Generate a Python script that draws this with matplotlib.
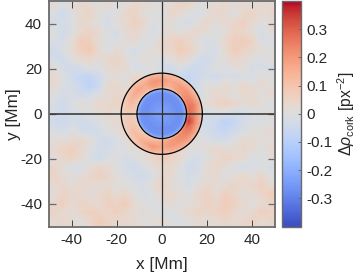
#!/usr/bin/python3

import matplotlib
matplotlib.use('Agg')
import matplotlib.pyplot as plt
import numpy as np

plt.rcParams['font.family'] = ['Liberation Sans', 'DejaVu Sans']
plt.rcParams['mathtext.fontset'] = 'custom'
plt.rcParams['mathtext.rm'] = 'Liberation Sans'
plt.rcParams['mathtext.it'] = 'Liberation Sans:italic'

# background read by eye, 4 Mm cells, top row first
background = np.array([
    [ 2, -1,  1,  3,  2,  0,  2, -1,  1,  3,  2,  1,  0,  2,  4,  3,  1,  0,  2,  3,  1,  2,  1,  3,  2],
    [-1, -3,  0,  2,  4,  1, -1,  0,  3,  4,  1,  0, -1,  3,  2,  0, -2,  1,  3,  2,  0,  3,  4,  1,  3],
    [-2, -2, -1,  3,  2,  0, -2,  1,  2,  5,  3, -1,  0,  1, -1, -2,  1,  3,  1,  2,  3,  5,  2,  0,  1],
    [ 0, -3, -1,  2,  4,  2, -1, -2,  2,  3,  1, -2,  1,  2,  0,  2,  3,  1, -1,  1,  4,  3,  1, -2,  2],
    [-1, -2,  1,  6,  5,  1,  0, -1,  1,  2, -1,  0,  2,  4,  5,  3,  0, -2,  0,  3,  5,  6,  4, -1, -1],
    [-3, -1,  2,  5,  7,  2, -1,  2,  0, -2,  0,  1,  3,  3,  6,  4,  1, -1, -2,  2,  6,  4,  3,  1,  0],
    [-2, -3,  0,  2,  3,  1,  3,  4,  1, -1,  2,  0, -1,  1,  3,  2, -2, -3, -1,  1,  3,  2,  0, -1,  1],
    [ 1, -2, -3, -2,  0, -1,  2,  3,  2, -2, -1,  0, -2, -3, -1, -3, -4, -2,  0, -1,  1,  1, -2, -1, -2],
    [ 3,  0, -3, -5, -6, -3,  0,  1,  0,  3,  1, -1, -1, -2, -3, -5, -3, -2, -3, -1, -2, -1, -1,  1,  0],
    [ 2, -1, -2, -4, -7, -4,  2,  3,  1,  4,  4,  2,  1,  0, -2, -4, -2,  1,  0,  2,  1,  3,  1,  2,  1],
    [ 0, -2, -1, -3, -2,  0,  2,  3,  3,  4,  6,  6,  5,  3,  0, -2, -2,  0,  3,  2,  0,  2,  3,  0,  2],
    [-1, -3, -1,  1,  0,  3,  2,  4,  3,  2,  0, -1,  0,  2,  3,  1, -1,  2,  3,  5,  3,  1,  2,  1, -1],
    [-2, -3, -2, -1,  0,  1,  3,  2,  1,  0,  0,  0,  0,  0,  2,  1, -1, -2, -1, -1, -3, -2, -1,  0,  1],
    [-3, -4, -2, -3, -2, -1,  1,  2,  3,  2,  0,  0,  0,  0,  2,  1, -2, -3, -4, -7, -5, -2, -1, -1,  0],
    [-1, -2,  0, -2, -3, -2,  0,  1,  3,  4,  4,  3,  3,  3,  2,  0, -1, -2, -4, -5, -3, -1,  0,  1,  2],
    [ 1,  1,  2,  3,  1, -2, -3, -1,  1,  3,  4,  3,  2,  3,  1,  0,  1, -1, -2, -2,  0,  2,  2,  1,  1],
    [ 2,  4,  5,  3,  0, -2, -2, -1,  0,  1,  2,  2,  3,  5,  3,  1,  0,  1,  3,  2,  1,  3,  2,  0,  2],
    [ 1,  3,  4,  2, -1, -3, -1,  0, -2, -1,  1,  3,  6,  4,  2, -1, -2,  0,  2,  4,  3,  2, -1, -1,  1],
    [ 3,  1, -1, -2,  1,  3,  2,  0, -2, -3, -1,  1,  2,  3,  0, -3, -2,  2,  3,  1, -1, -2, -1,  0, -2],
    [ 4,  2,  0,  1,  3,  5,  3,  1, -1, -2, -3, -1,  3,  2, -1, -2, -1,  1,  2,  0,  1,  3,  1,  3,  0],
    [ 2,  3,  1,  3,  2,  1,  2,  0,  1, -1, -1,  1,  4,  1,  0, -2,  1,  3,  1,  2,  4,  2,  3,  5,  2],
    [ 1,  4,  3,  2,  1,  3,  4,  2,  3,  0, -2,  0,  2,  3,  1,  0,  3,  4,  2,  5,  3,  1,  2,  3,  6],
    [ 3,  5,  2,  4,  3,  2,  5,  4,  6,  2,  0, -1,  1,  2,  0,  1,  2,  5,  3,  6,  5,  2,  0,  2,  3],
    [ 4,  2,  1,  3,  5,  4,  3,  5,  3,  1,  1,  0, -1, -1,  1,  2,  4,  3,  4,  5,  3,  1,  3,  5,  4],
    [ 2,  3,  2,  0,  3,  6,  4,  2,  3,  2,  0,  1,  2,  0, -1,  0,  2,  1,  2,  3,  2,  3,  4,  2,  3],
]) / 80.0

# core and ring read by eye: values per radius, angle counted from +x, every 15 deg
angles_deg = list(range(0, 361, 15))
core_radii = [0, 4, 7, 9.5, 11]
core_values = np.array([-0.23, -0.25, -0.27, -0.26, -0.18])
ring_radii = [11, 12.5, 15, 18]
ring_values = np.array([
    [.22, .21, .18, .12, .08, .07, .08, .07, .05, .04, .03, .02, .02, .02, .03, .04, .05, .07, .08, .10, .13, .15, .20, .27, .22],
    [.28, .27, .24, .20, .18, .14, .17, .19, .14, .13, .11, .09, .07, .07, .09, .10, .12, .13, .15, .19, .21, .23, .27, .35, .28],
    [.22, .24, .21, .20, .19, .17, .20, .21, .16, .18, .15, .11, .08, .09, .11, .13, .17, .21, .17, .20, .20, .22, .24, .24, .22],
    [.10, .12, .10, .11, .10, .11, .11, .11, .10, .10, .08, .06, .05, .05, .06, .08, .10, .11, .10, .12, .13, .13, .12, .11, .10],
])

x_ticks = [-40, -20, 0, 20, 40]
x_labels = ['-40', '-20', '0', '20', '40']
cbar_ticks = [-0.3, -0.2, -0.1, 0, 0.1, 0.2, 0.3]
cbar_labels = ['-0.3', '-0.2', '-0.1', '0', '0.1', '0.2', '0.3']
inner_circle = 11
outer_circle = 18

W, H = 359, 273
FS = 11
LFS = 12.4
GREY = '#6a6a6a'
TXT = '#262626'


def box(x0, y_top, x1, y_bot):
    return [x0 / W, 1 - y_bot / H, (x1 - x0) / W, (y_bot - y_top) / H]


def polar_mesh(ax, radii, values, norm):
    t = np.radians(angles_deg)
    rr, tt = np.meshgrid(radii, t, indexing='ij')
    ax.pcolormesh(rr * np.cos(tt), rr * np.sin(tt), values, shading='gouraud',
                  cmap='coolwarm', norm=norm, zorder=2)


fig = plt.figure(figsize=(W / 100, H / 100), dpi=100)
ax = fig.add_axes(box(49, 1, 274.5, 226.5))
cax = fig.add_axes(box(282, 1, 300.5, 226.5))

norm = plt.Normalize(-0.4, 0.4)
im = ax.imshow(background, extent=[-50, 50, -50, 50], cmap='coolwarm', norm=norm,
               interpolation='bilinear', aspect='auto', zorder=1)

polar_mesh(ax, core_radii, np.tile(core_values[:, None], (1, len(angles_deg))), norm)
polar_mesh(ax, ring_radii, ring_values, norm)

ax.axhline(0, color='#303030', lw=1.1, zorder=3)
ax.axvline(0, color='#303030', lw=0.9, zorder=3)
for r in (inner_circle, outer_circle):
    ax.add_patch(plt.Circle((0, 0), r, fill=False, ec='black', lw=0.9, zorder=4))

ax.set_xlim(-50, 50)
ax.set_ylim(-50, 50)
ax.set_xticks(x_ticks, x_labels)
ax.set_yticks(x_ticks, x_labels)
ax.tick_params(axis='x', direction='in', top=True, length=5, width=0.7, color='#404040',
               labelsize=FS, labelcolor=TXT, pad=5)
ax.tick_params(axis='y', direction='in', right=True, length=5, width=0.9, color=GREY,
               labelsize=FS, labelcolor=TXT, pad=5)
ax.set_xlabel('x [Mm]', fontsize=LFS, color=TXT)
ax.set_ylabel('y [Mm]', fontsize=LFS, color=TXT)
ax.xaxis.set_label_coords(0.5, -0.135)
ax.yaxis.set_label_coords(-0.125, 0.5)
for s in ax.spines.values():
    s.set_color(GREY)
    s.set_linewidth(1.3)
    s.set_zorder(6)

cb = fig.colorbar(im, cax=cax)
cb.set_ticks(cbar_ticks, labels=cbar_labels)
cb.ax.tick_params(direction='in', length=2, width=0.7, color=GREY, labelsize=FS,
                  labelcolor=TXT, pad=4)
cb.outline.set_edgecolor(GREY)
cb.outline.set_linewidth(1.0)
fig.text(346 / W, 1 - 114 / H, r'$\Delta\rho_{\mathrm{cork}}$ [px$^{-2}$]', rotation=90,
         ha='center', va='center', fontsize=FS + 0.3, color=TXT)

fig.savefig('out.png', dpi=100)
